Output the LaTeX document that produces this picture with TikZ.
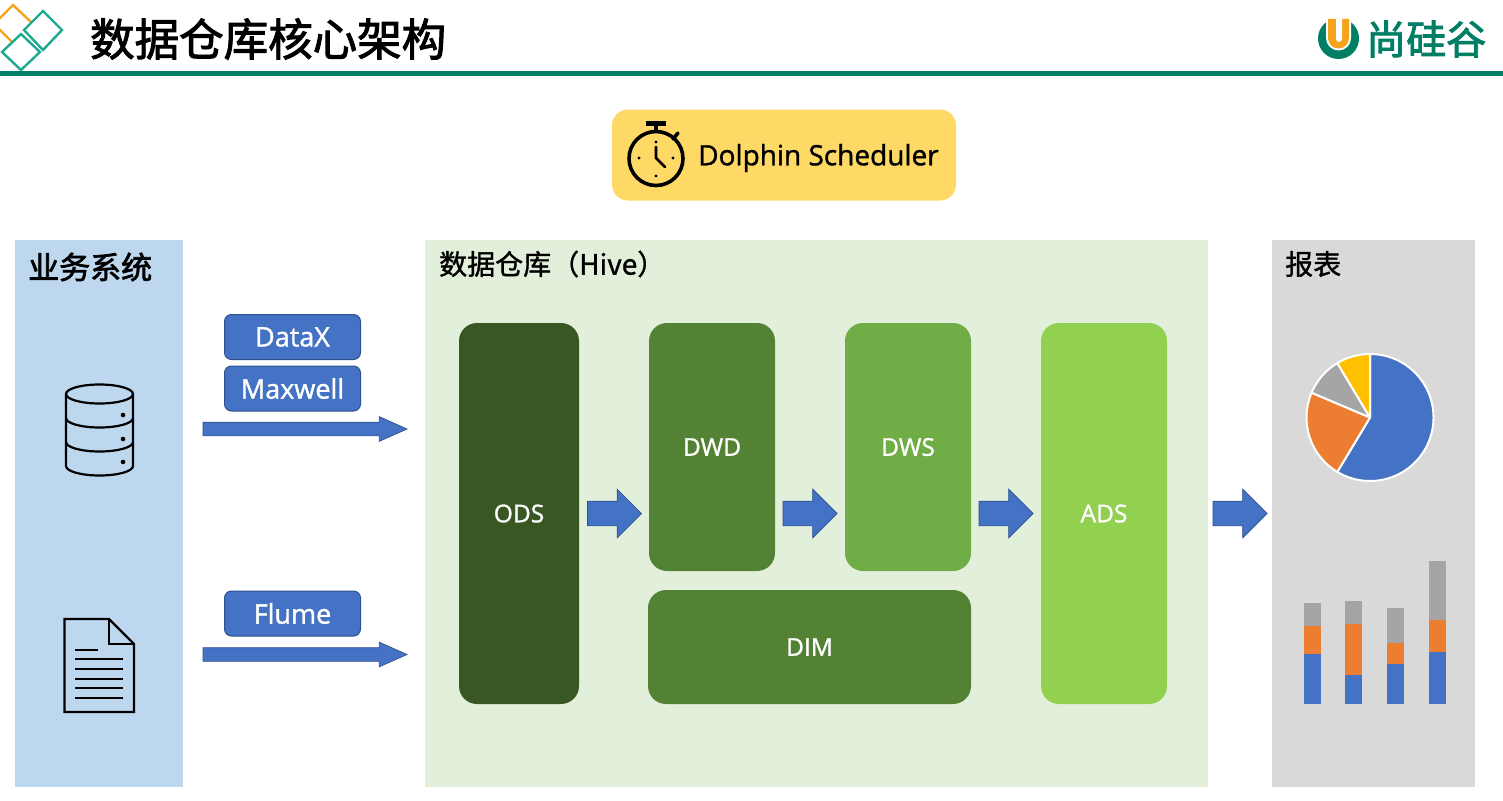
\documentclass[tikz,border=0pt]{standalone}
\usepackage{fontspec}
\setmainfont{Noto Sans CJK SC}
\newfontfamily\latinf[FakeBold=1.3]{Open Sans}
\newfontfamily\cjkb[FakeBold=2.2]{Noto Sans CJK SC}
\newfontfamily\cjkm[FakeBold=1.2]{Noto Sans CJK SC}
\usetikzlibrary{shapes.arrows}
\definecolor{teal1}{HTML}{007E66}
\definecolor{tealb}{HTML}{1FAA90}
\definecolor{orangel}{HTML}{F5A31A}
\definecolor{blue1}{HTML}{4472C4}
\definecolor{blued}{HTML}{2F528F}
\definecolor{bluep}{HTML}{BDD7EE}
\definecolor{greenp}{HTML}{E2EFDA}
\definecolor{grayp}{HTML}{D9D9D9}
\definecolor{g1}{HTML}{385723}
\definecolor{g2}{HTML}{548235}
\definecolor{g3}{HTML}{70AD47}
\definecolor{g4}{HTML}{92D050}
\definecolor{yel}{HTML}{FFD966}
\definecolor{org}{HTML}{ED7D31}
\definecolor{gry}{HTML}{A5A5A5}
\definecolor{gold}{HTML}{FFC000}
\tikzset{
  panel/.style={anchor=north west,inner sep=0pt,outer sep=0pt},
  stage/.style={rounded corners=18,inner sep=0pt,outer sep=0pt,text=white,font=\fontsize{24.5}{24.5}\selectfont\latinf},
  tool/.style={draw=blued,line width=1pt,fill=blue1,rounded corners=7,minimum width=136,minimum height=45,inner sep=0pt,text=white,font=\fontsize{27}{27}\selectfont\latinf},
  bigarrow/.style={single arrow,fill=blue1,draw=blued,line width=.7pt,inner xsep=0pt,outer sep=0pt,anchor=tail},
  flow/.style={bigarrow,inner ysep=12,minimum height=54,single arrow head extend=12,single arrow tip angle=90},
  feed/.style={bigarrow,inner ysep=6.5,minimum height=204,single arrow head extend=5.5,single arrow tip angle=48},
  paneltitle/.style={anchor=west,inner sep=0pt,font=\fontsize{28}{28}\selectfont\cjkm},
}
\newcommand{\seg}[4]{\fill[#1] (#2,#3) rectangle (#2+17,#4);}
\begin{document}
\begin{tikzpicture}[x=1pt,y=-1pt]
\useasboundingbox (0,0) rectangle (1503,800);
\fill[white] (0,0) rectangle (1503,800);
% header
\draw[orangel,line width=2.4pt] (31,22) -- (13,5) -- (-6,24) -- (12,42);
\draw[tealb,line width=2.4pt] (43,11) -- (62,30) -- (43,50) -- (24,30) -- cycle;
\draw[tealb,line width=2.4pt] (21,34) -- (40,52) -- (21,70) -- (2,52) -- cycle;
\fill[teal1] (0,70.5) rectangle (1503,76);
\node[anchor=west,inner sep=0pt,font=\fontsize{44.5}{44.5}\selectfont\cjkb] (title) at (90,39) {数据仓库核心架构};
% logo
\fill[teal1] (1338.5,38.5) circle[radius=20.5];
\fill[white] (1326,15) -- (1326,38) arc[start angle=180,end angle=0,radius=12.5] -- (1351,15) -- cycle;
\fill[orangel] (1328,19) -- (1328,38) arc[start angle=180,end angle=0,radius=10.5] -- (1349,19) -- cycle;
\fill[white] (1336,19) -- (1336,39) arc[start angle=180,end angle=0,radius=3] -- (1342,19) -- cycle;
\node[anchor=west,inner sep=0pt,text=teal1,font=\fontsize{40}{40}\selectfont\cjkb] (logotext) at (1366,39) {尚硅谷};
% scheduler
\node[fill=yel,rounded corners=16,minimum width=344,minimum height=91,inner sep=0pt] (sched) at (784,155) {};
\node[anchor=west,inner sep=0pt,font=\fontsize{28}{28}\selectfont\latinf] (schedtext) at (698,158) {Dolphin Scheduler};
\draw[black,line width=3.6pt] (656,158.5) circle[radius=27];
\draw[black,line width=4.5pt] (646,123.5) -- (666,123.5);
\draw[black,line width=3.4pt] (656,124) -- (656,131);
\draw[black,line width=3.6pt,line cap=round] (673,139) -- (678,133);
\draw[black,line width=2.8pt,line cap=round,line join=round] (656,147) -- (656,158) -- (665,167);
\foreach \p in {(656,142),(656,176),(639,158),(673,158)} \fill[black] \p circle[radius=1.7];
% panels
\node[panel,fill=bluep,minimum width=168,minimum height=547] (source) at (15,240) {};
\node[panel,fill=greenp,minimum width=783,minimum height=547] (dw) at (425,240) {};
\node[panel,fill=grayp,minimum width=203,minimum height=547] (report) at (1272,240) {};
\node[paneltitle,font=\fontsize{31}{31}\selectfont\cjkb] (sourcet) at (28,267) {业务系统};
\node[paneltitle] (dwt) at (439,264) {数据仓库（Hive）};
\node[paneltitle] (reportt) at (1285,264) {报表};
% database icon
\begin{scope}[line width=2.2pt,draw=black]
\draw (99.5,394) ellipse[x radius=33.5,y radius=9.5];
\draw (66,394) -- (66,466) arc[start angle=180,end angle=0,x radius=33.5,y radius=9.5] -- (133,394);
\draw (66,418) arc[start angle=180,end angle=0,x radius=33.5,y radius=9.5];
\draw (66,442) arc[start angle=180,end angle=0,x radius=33.5,y radius=9.5];
\end{scope}
\foreach \y in {415,439,462} \fill[black] (123,\y) circle[radius=2.3];
% document icon
\draw[line width=2.2pt,line join=miter] (64.5,619) -- (109,619) -- (134,644) -- (134,712) -- (64.5,712) -- cycle;
\draw[line width=2.2pt] (109,619) -- (109,644) -- (134,644);
\draw[line width=2pt] (75,649.5) -- (98,649.5);
\foreach \y in {659,669,678.5,688,697.5} \draw[line width=2pt] (75,\y) -- (123,\y);
% tools
\node[tool] (datax) at (292.5,337) {DataX};
\node[tool] (maxwell) at (292.5,388.5) {Maxwell};
\node[tool] (flume) at (292.5,613.5) {Flume};
\node[feed] (feed1) at (203,429) {};
\node[feed] (feed2) at (203,654.5) {};
% stages
\node[stage,fill=g1,minimum width=120,minimum height=381] (ods) at (519,513.5) {ODS};
\node[stage,fill=g2,minimum width=126,minimum height=248] (dwd) at (712,447) {DWD};
\node[stage,fill=g3,minimum width=126,minimum height=248] (dws) at (908,447) {DWS};
\node[stage,fill=g4,minimum width=126,minimum height=381] (ads) at (1104,513.5) {ADS};
\node[stage,fill=g2,minimum width=323,minimum height=114] (dim) at (809.5,647) {DIM};
\node[flow] (a1) at (587.5,513.5) {};
\node[flow] (a2) at (783,513.5) {};
\node[flow] (a3) at (979,513.5) {};
\node[flow] (a4) at (1213,513.5) {};
% pie (angles measured in the y-down frame)
\def\cx{1370}\def\cy{417.5}\def\r{63.5}
\begin{scope}[draw=white,line width=2pt,line join=round]
\filldraw[fill=blue1] (\cx,\cy) -- ++(-90:\r) arc[start angle=-90,end angle=121,radius=\r] -- cycle;
\filldraw[fill=org] (\cx,\cy) -- ++(121:\r) arc[start angle=121,end angle=203,radius=\r] -- cycle;
\filldraw[fill=gry] (\cx,\cy) -- ++(203:\r) arc[start angle=203,end angle=239,radius=\r] -- cycle;
\filldraw[fill=gold] (\cx,\cy) -- ++(239:\r) arc[start angle=239,end angle=270,radius=\r] -- cycle;
\end{scope}
% bars
\seg{blue1}{1303.5}{654}{704}\seg{org}{1303.5}{626}{654}\seg{gry}{1303.5}{603}{626}
\seg{blue1}{1345}{675}{704}\seg{org}{1345}{624}{675}\seg{gry}{1345}{600.5}{624}
\seg{blue1}{1387}{664}{704}\seg{org}{1387}{643}{664}\seg{gry}{1387}{608}{643}
\seg{blue1}{1428.5}{652}{704}\seg{org}{1428.5}{619.5}{652}\seg{gry}{1428.5}{561}{619.5}
\end{tikzpicture}
\end{document}
